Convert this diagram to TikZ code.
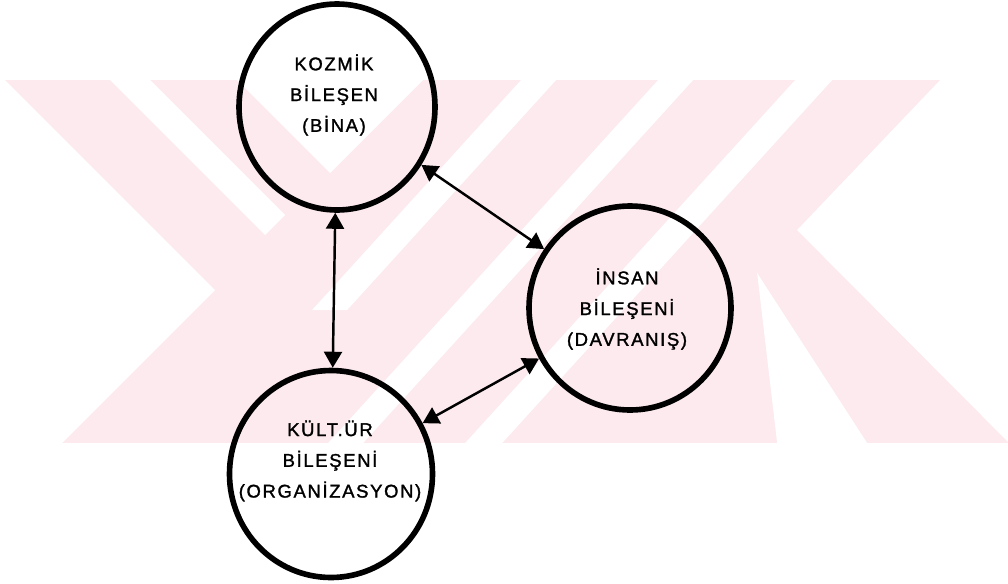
\documentclass[tikz,border=0pt]{standalone}
\usepackage{fontspec}
\newfontfamily\handfont[LetterSpace=9,FakeBold=1.5]{Liberation Sans}
\usetikzlibrary{positioning,arrows.meta,shapes.geometric}
\definecolor{wmpink}{RGB}{252,234,238}

\begin{document}
\begin{tikzpicture}[
  comp/.style = {ellipse, draw, line width=3.2pt, inner sep=0pt},
  lbl/.style = {align=center, font=\handfont\fontsize{10.5}{17.5}\selectfont},
  link/.style = {{Triangle[length=0.32cm,width=0.36cm]}-{Triangle[length=0.32cm,width=0.36cm]}, line width=1.4pt}]
 \useasboundingbox (0,0) rectangle (20.16,-11.66);
 \begin{scope}[x=0.02cm, y=-0.02cm]
  \fill[wmpink] (0,80) rectangle (1008,443);
  \fill[white] (0,80) -- (5,80) -- (215,290) -- (62,443) -- (0,443) -- cycle;
  \fill[white] (110,80) -- (150,80) -- (285,215) -- (265,235) -- cycle;
  \fill[white] (237,80) -- (423,80) -- (330,173) -- cycle;
  \fill[white] (521,80) -- (556,80) -- (347,310) -- (312,310) -- cycle;
  \fill[white] (658,80) -- (693,80) -- (363,443) -- (328,443) -- cycle;
  \fill[white] (795,80) -- (832,80) -- (502,443) -- (465,443) -- cycle;
  \fill[white] (940,80) -- (1008,80) -- (1008,442) -- (797,230) -- cycle;
  \fill[white] (757,273) -- (867,443) -- (777,443) -- cycle;
 \end{scope}
 \node[comp, minimum width=3.92cm, minimum height=4.12cm, xshift=6.74cm, yshift=-2.14cm] (kozmik) {};
 \node[comp, minimum width=4.04cm, minimum height=4.08cm, xshift=12.6cm, yshift=-6.16cm] (insan) {};
 \node[comp, minimum width=4.06cm, minimum height=4.14cm, xshift=6.62cm, yshift=-9.48cm] (kultur) {};
 \node[lbl, xshift=6.68cm, yshift=-1.9cm] (kozmik text) {KOZMİK\\BİLEŞEN\\(BİNA)};
 \node[lbl, xshift=12.54cm, yshift=-6.18cm] (insan text) {İNSAN\\BİLEŞENİ\\(DAVRANIŞ)};
 \node[lbl, xshift=6.6cm, yshift=-9.22cm] (kultur text) {KÜLT.ÜR\\BİLEŞENİ\\(ORGANİZASYON)};
 \draw[link] (kozmik) to (insan);
 \draw[link] (kozmik) to (kultur);
 \draw[link] (kultur) to (insan);
\end{tikzpicture}
\end{document}
